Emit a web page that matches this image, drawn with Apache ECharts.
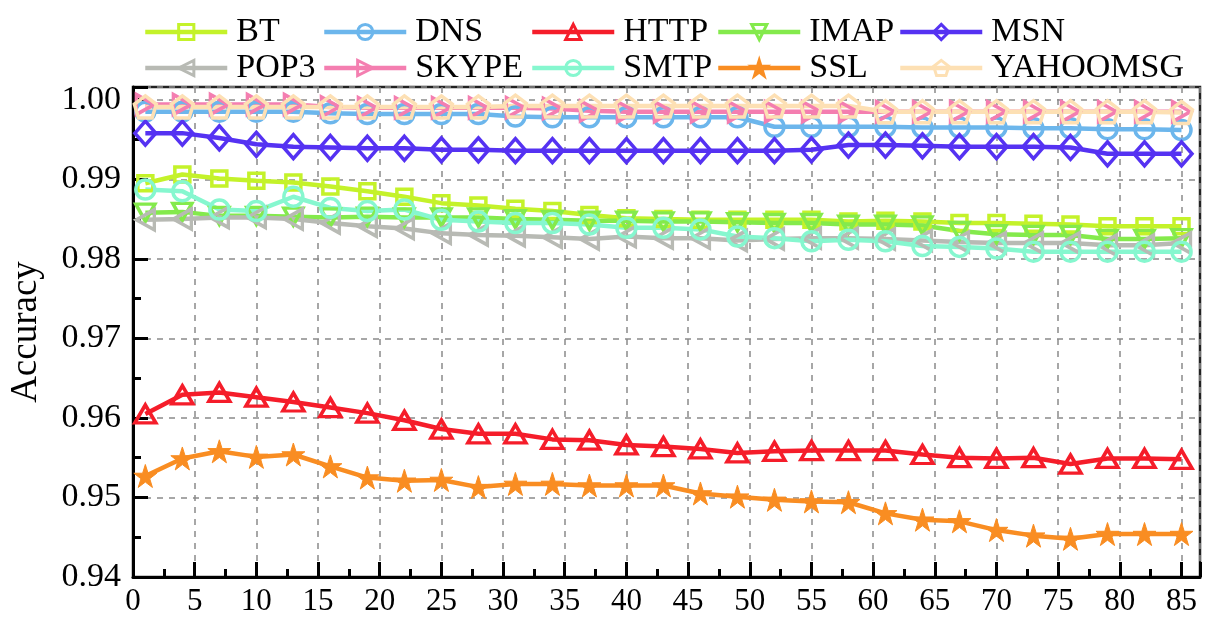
<!DOCTYPE html>
<html>
<head>
<meta charset="utf-8">
<script src="https://cdn.jsdelivr.net/npm/echarts@6/dist/echarts.min.js"></script>
<style>
html,body{margin:0;padding:0;background:#fff;}
#chart{width:1206px;height:628px;}
</style>
</head>
<body>
<div id="chart"></div>
<script>
const xs = [1,4,7,10,13,16,19,22,25,28,31,34,37,40,43,46,49,52,55,58,61,64,67,70,73,76,79,82,85];

const BT = [0.9895,0.9906,0.9901,0.9898,0.9896,0.9891,0.9885,0.9878,0.9870,0.9867,0.9863,0.9860,0.9855,0.9851,0.9850,0.9849,0.9849,0.9849,0.9849,0.9847,0.9848,0.9847,0.9845,0.9845,0.9844,0.9843,0.9841,0.9841,0.9841];
const DNS = [0.9985,0.9985,0.9985,0.9985,0.9985,0.9983,0.9982,0.9982,0.9982,0.9982,0.9979,0.9978,0.9978,0.9978,0.9978,0.9978,0.9978,0.9966,0.9966,0.9966,0.9966,0.9965,0.9965,0.9965,0.9964,0.9964,0.9963,0.9963,0.9962];
const HTTP = [0.9605,0.9629,0.9632,0.9626,0.9620,0.9613,0.9606,0.9597,0.9586,0.9580,0.9580,0.9573,0.9572,0.9566,0.9564,0.9561,0.9556,0.9558,0.9559,0.9559,0.9559,0.9554,0.9550,0.9549,0.9550,0.9542,0.9549,0.9549,0.9548];
const IMAP = [0.9858,0.9859,0.9854,0.9854,0.9853,0.9852,0.9853,0.9852,0.9852,0.9852,0.9850,0.9849,0.9848,0.9848,0.9847,0.9847,0.9846,0.9845,0.9845,0.9843,0.9843,0.9842,0.9835,0.9831,0.9830,0.9830,0.9825,0.9825,0.9826];
const MSN = [0.9958,0.9958,0.9952,0.9944,0.9941,0.9940,0.9939,0.9939,0.9937,0.9937,0.9936,0.9936,0.9936,0.9936,0.9936,0.9936,0.9936,0.9936,0.9937,0.9943,0.9943,0.9942,0.9941,0.9941,0.9941,0.9940,0.9932,0.9932,0.9932];
const POP3 = [0.9849,0.9850,0.9852,0.9852,0.9850,0.9845,0.9841,0.9838,0.9832,0.9830,0.9829,0.9827,0.9825,0.9828,0.9826,0.9826,0.9823,0.9825,0.9826,0.9826,0.9825,0.9823,0.9821,0.9820,0.9820,0.9820,0.9817,0.9817,0.9820];
const SKYPE = [0.9994,0.9994,0.9994,0.9994,0.9994,0.9991,0.9990,0.9990,0.9990,0.9990,0.9990,0.9989,0.9986,0.9985,0.9985,0.9985,0.9985,0.9985,0.9985,0.9985,0.9985,0.9985,0.9985,0.9985,0.9985,0.9985,0.9985,0.9985,0.9985];
const SMTP = [0.9887,0.9885,0.9862,0.9860,0.9878,0.9864,0.9860,0.9862,0.9849,0.9847,0.9845,0.9845,0.9843,0.9839,0.9839,0.9837,0.9828,0.9826,0.9822,0.9824,0.9822,0.9816,0.9815,0.9813,0.9809,0.9809,0.9809,0.9809,0.9809];
const SSL = [0.9527,0.9549,0.9558,0.9551,0.9554,0.9539,0.9525,0.9521,0.9522,0.9513,0.9517,0.9517,0.9515,0.9515,0.9515,0.9505,0.9501,0.9497,0.9495,0.9494,0.9480,0.9472,0.9470,0.9459,0.9452,0.9448,0.9454,0.9454,0.9454];
const YAHOOMSG = [0.9991,0.9991,0.9991,0.9991,0.9991,0.9991,0.9991,0.9991,0.9991,0.9991,0.9992,0.9992,0.9992,0.9992,0.9992,0.9992,0.9992,0.9992,0.9992,0.9992,0.9985,0.9985,0.9985,0.9985,0.9985,0.9985,0.9985,0.9985,0.9984];

const yTicks = ['0.94','0.95','0.96','0.97','0.98','0.99','1.00'];
const xTicks = ['0','5','10','15','20','25','30','35','40','45','50','55','60','65','70','75','80','85'];

const FONT = '"Liberation Serif", "Times New Roman", serif';
const PENTAGON = 'path://M50,0 L97.6,34.5 L79.4,90.5 L20.6,90.5 L2.4,34.5 Z';
const STAR = 'path://M50,0 L61.8,36.2 L100,36.2 L69.1,58.8 L80.9,95.1 L50,72.7 L19.1,95.1 L30.9,58.8 L0,36.2 L38.2,36.2 Z';

const defs = [
  {name:'BT', data:BT, color:'#c4f22a', symbol:'rect', size:15, rot:0},
  {name:'DNS', data:DNS, color:'#6cb6ec', symbol:'circle', size:19, rot:0},
  {name:'HTTP', data:HTTP, color:'#f51d2a', symbol:'triangle', size:[21,18], rot:0},
  {name:'IMAP', data:IMAP, color:'#84ea4c', symbol:'triangle', size:[19,17], rot:180},
  {name:'MSN', data:MSN, color:'#5532f2', symbol:'diamond', size:[21,24], rot:0},
  {name:'POP3', data:POP3, color:'#b8bab4', symbol:'triangle', size:[20,18], rot:90},
  {name:'SKYPE', data:SKYPE, color:'#f47eb0', symbol:'triangle', size:[20,18], rot:-90},
  {name:'SMTP', data:SMTP, color:'#86f7cf', symbol:'circle', size:19, rot:0},
  {name:'SSL', data:SSL, color:'#f98d22', symbol:STAR, size:23, rot:0, filled:true},
  {name:'YAHOOMSG', data:YAHOOMSG, color:'#fde0b4', symbol:PENTAGON, size:22, rot:0}
];

const series = defs.map(d => ({
  name: d.name,
  type: 'line',
  data: xs.map((x, i) => [x, d.data[i]]),
  color: d.color,
  symbol: d.symbol,
  symbolSize: d.size,
  symbolRotate: d.rot,
  showAllSymbol: true,
  lineStyle: {color: d.color, width: 4.5},
  itemStyle: {color: d.filled ? d.color : 'rgba(255,255,255,0)', borderColor: d.color, borderWidth: d.filled ? 1 : 3.5},
  emphasis: {disabled: true}
}));

const legendCols = [['BT','POP3'],['DNS','SKYPE'],['HTTP','SMTP'],['IMAP','SSL'],['MSN','YAHOOMSG']];
const legendLeft = [138, 317, 525, 711, 893];
const legends = legendCols.map((names, i) => ({
  data: names,
  orient: 'vertical',
  left: legendLeft[i],
  top: 10,
  itemWidth: 82,
  itemHeight: 19,
  itemGap: 2,
  selectedMode: false,
  lineStyle: {width: 4.5},
  itemStyle: {borderWidth: 3},
  textStyle: {fontFamily: FONT, fontSize: 34, color: '#000', lineHeight: 33, padding: [0,0,0,4]}
}));

const chart = echarts.init(document.getElementById('chart'), null, {renderer: 'canvas'});
chart.setOption({
  animation: false,
  backgroundColor: '#fff',
  legend: legends,
  grid: {left: 131, right: 6, top: 87, bottom: 51, show: true, borderColor: '#222', borderWidth: 2.5, backgroundColor: 'transparent'},
  xAxis: {
    type: 'value', min: 0, max: 86.5, interval: 5,
    axisLine: {lineStyle: {color: '#000', width: 3}},
    axisTick: {inside: true, length: 15, lineStyle: {color: '#000', width: 3}},
    minorTick: {show: true, splitNumber: 2, length: 8, lineStyle: {color: '#000', width: 3}},
    axisLabel: {showMaxLabel: false, fontFamily: FONT, fontSize: 31, color: '#000', margin: 9,
      formatter: v => { const s = String(Math.round(v)); return xTicks.indexOf(s) >= 0 ? s : ''; }},
    splitLine: {show: true, lineStyle: {type: [6, 6], color: '#8a8a8a', width: 1.5}}
  },
  yAxis: {
    type: 'value', min: 0.94, max: 1.0016, interval: 0.01,
    name: 'Accuracy', nameLocation: 'middle', nameGap: 88,
    nameTextStyle: {fontFamily: FONT, fontSize: 37, color: '#000'},
    axisLine: {lineStyle: {color: '#000', width: 3}},
    axisTick: {inside: true, length: 15, lineStyle: {color: '#000', width: 3}},
    minorTick: {show: true, splitNumber: 2, length: 8, lineStyle: {color: '#000', width: 3}},
    axisLabel: {showMaxLabel: false, fontFamily: FONT, fontSize: 34, color: '#000', margin: 12,
      formatter: v => { const s = v.toFixed(2); return yTicks.indexOf(s) >= 0 ? s : ''; }},
    splitLine: {show: true, lineStyle: {type: [6, 6], color: '#8a8a8a', width: 1.5}}
  },
  series: series
});
</script>
</body>
</html>
